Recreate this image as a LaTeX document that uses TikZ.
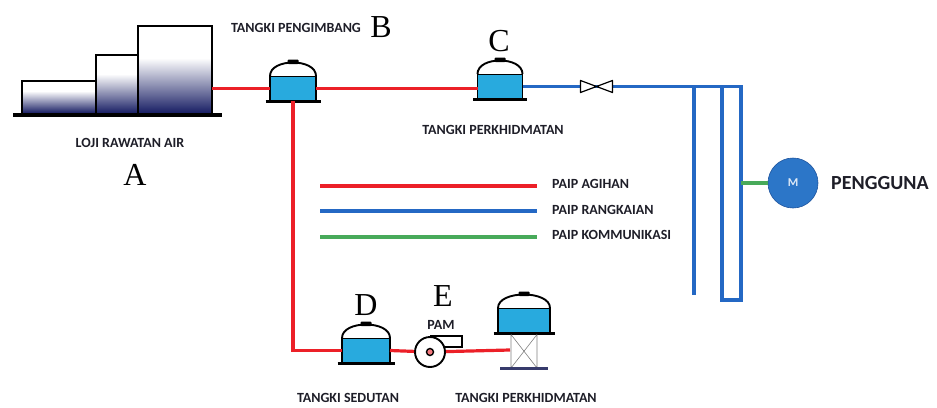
\documentclass[tikz,border=0pt]{standalone}
\usepackage{fontspec}
\setmainfont{Liberation Serif}
\newfontfamily\labelfont{Carlito}

\definecolor{paipmerah}{RGB}{236,32,40}
\definecolor{paipbiru}{RGB}{36,104,196}
\definecolor{paiphijau}{RGB}{72,170,90}
\definecolor{airbiru}{RGB}{40,170,222}
\definecolor{lojibiru}{RGB}{24,30,100}
\definecolor{teksgelap}{RGB}{30,30,40}
\definecolor{bulatbiru}{RGB}{44,118,200}

\tikzset{
  agihan/.style={draw=paipmerah,line width=3.2pt},
  rangkaian/.style={draw=paipbiru,line width=3.2pt},
  komunikasi/.style={draw=paiphijau,line width=3.2pt},
  garis/.style={draw=black,line width=1.9pt},
  teks/.style={inner sep=1pt,text=teksgelap,font=\labelfont\bfseries\fontsize{14}{16}\selectfont},
  huruf/.style={inner sep=0pt,font=\fontsize{32}{36}\selectfont},
  % tangki: badan berisi air, kubah, penutup dan tapak
  pics/tangki/.style={code={
    \filldraw[garis,fill=airbiru] (-#1,0) rectangle (#1,-25);
    \filldraw[garis,fill=white] (-#1,-25) .. controls (-#1,-43) and (#1,-43) .. (#1,-25);
    \fill[black,rounded corners=1pt] (-5.5,-37) rectangle (5.5,-41.5);
    \draw[line width=3pt] (-#1-4.5,0) -- (#1+4.5,0);
    \coordinate (-w) at (-#1,-12.5);
    \coordinate (-e) at (#1,-12.5);
    \coordinate (-s) at (0,0);
  }}
}

\begin{document}
\begin{tikzpicture}[x=1pt,y=-1pt]
  \useasboundingbox (0,0) rectangle (937,407);

% loji rawatan air
  \foreach \xa/\xb/\ya/\yb in {22/96/81/91, 96/138/55/74, 138/212/26/58}{
    \shade[top color=white,middle color=lojibiru!75,bottom color=lojibiru] (\xa,\yb) rectangle (\xb,113);
    \draw[garis] (\xa,113) |- (\xb,\ya) -- (\xb,113);
  }
  \draw[line width=3.5pt] (13,115) -- (222,115);
  \coordinate (loji) at (212,88.5);

% tangki
  \pic (B) at (293,101) {tangki=23};
  \pic (C) at (500,99) {tangki=22.5};
  \pic (D) at (366,363) {tangki=24};
  \pic (F) at (524,333) {tangki=26};

% menara tangki F
  \begin{scope}[shift={(F-s)}]
    \draw[gray,line width=0.6pt] (-13,1.5) -- (-13,35) (13,1.5) -- (13,35)
                                 (-13,1.5) -- (13,35) (13,1.5) -- (-13,35);
    \draw[lojibiru!70!gray,line width=3pt] (-24,35.5) -- (24,35.5);
    \coordinate (kaki) at (-14,17);
  \end{scope}

% paip agihan
  \draw[agihan] (loji) -- (B-w);
  \draw[agihan] (B-e) -- (B-e -| C-w);
  \draw[agihan] (B-s) |- (D-w);

% pam
  \node[circle,garis,fill=white,minimum size=30pt,inner sep=0pt] (pam) at (430,352) {};
  \draw[agihan] (D-e) -- (pam);
  \draw[agihan] (pam) -- (kaki);
  \draw[garis] (pam.north) -- ++(32,0) -- ++(0,11) -- ++(-18,0);
  \draw[line width=1.4pt,fill=paipmerah!60] (pam) circle (3.5);

% paip rangkaian
  \path (C-e) ++(74,0) coordinate (injap);
  \coordinate (kiri) at (694,295);
  \coordinate (kanan) at (722,300);
  \coordinate (luar) at (741,300);
  \draw[rangkaian] (C-e) -| (luar) -- (kanan) -- (kanan |- C-e);
  \draw[rangkaian] (kiri |- C-e) -- (kiri);
  \begin{scope}[shift={(injap)}]
    \filldraw[fill=white,draw=black,line width=1.2pt,line join=round]
      (-16,-6) -- (-16,6) -- (0,0) -- cycle (16,-6) -- (16,6) -- (0,0) -- cycle;
  \end{scope}

% pengguna
  \node[circle,fill=bulatbiru,draw=paipbiru!80!black,line width=0.6pt,minimum size=50pt,
        inner sep=0pt,text=white!85!bulatbiru,font=\labelfont\bfseries\fontsize{12}{13}\selectfont] (M) at (793,183) {M};
  \draw[komunikasi] (luar |- M) -- (M);
  \node[teks,anchor=west,font=\labelfont\bfseries\fontsize{20}{22}\selectfont] (pengguna) at (830,183) {PENGGUNA};

% petunjuk paip
  \node[teks,anchor=west] (lgA) at (551,184) {PAIP AGIHAN};
  \node[teks,anchor=west] (lgR) at (551,210) {PAIP RANGKAIAN};
  \node[teks,anchor=west] (lgK) at (551,235) {PAIP KOMMUNIKASI};
  \coordinate (mulaA) at (320,186);
  \coordinate (mulaR) at (320,211);
  \coordinate (mulaK) at (320,237);
  \draw[agihan,shorten >=14pt] (mulaA) -- (mulaA -| lgA.west);
  \draw[rangkaian,shorten >=14pt] (mulaR) -- (mulaR -| lgR.west);
  \draw[komunikasi,shorten >=14pt] (mulaK) -- (mulaK -| lgK.west);

% label
  \node[teks] (tPengimbang) at (296,28) {TANGKI PENGIMBANG};
  \node[huruf] (hB) at (381,27) {B};
  \node[huruf] (hC) at (499,41) {C};
  \node[teks] (tKhidmat) at (493,130) {TANGKI PERKHIDMATAN};
  \node[teks] (tLoji) at (130,143) {LOJI RAWATAN AIR};
  \node[huruf] (hA) at (135,175) {A};
  \node[huruf] (hD) at (366,305) {D};
  \node[huruf] (hE) at (443,296) {E};
  \node[teks] (tPam) at (441,325) {PAM};
  \node[teks] (tSedutan) at (348,398) {TANGKI SEDUTAN};
  \node[teks] (tKhidmatB) at (526,398) {TANGKI PERKHIDMATAN};
\end{tikzpicture}
\end{document}
